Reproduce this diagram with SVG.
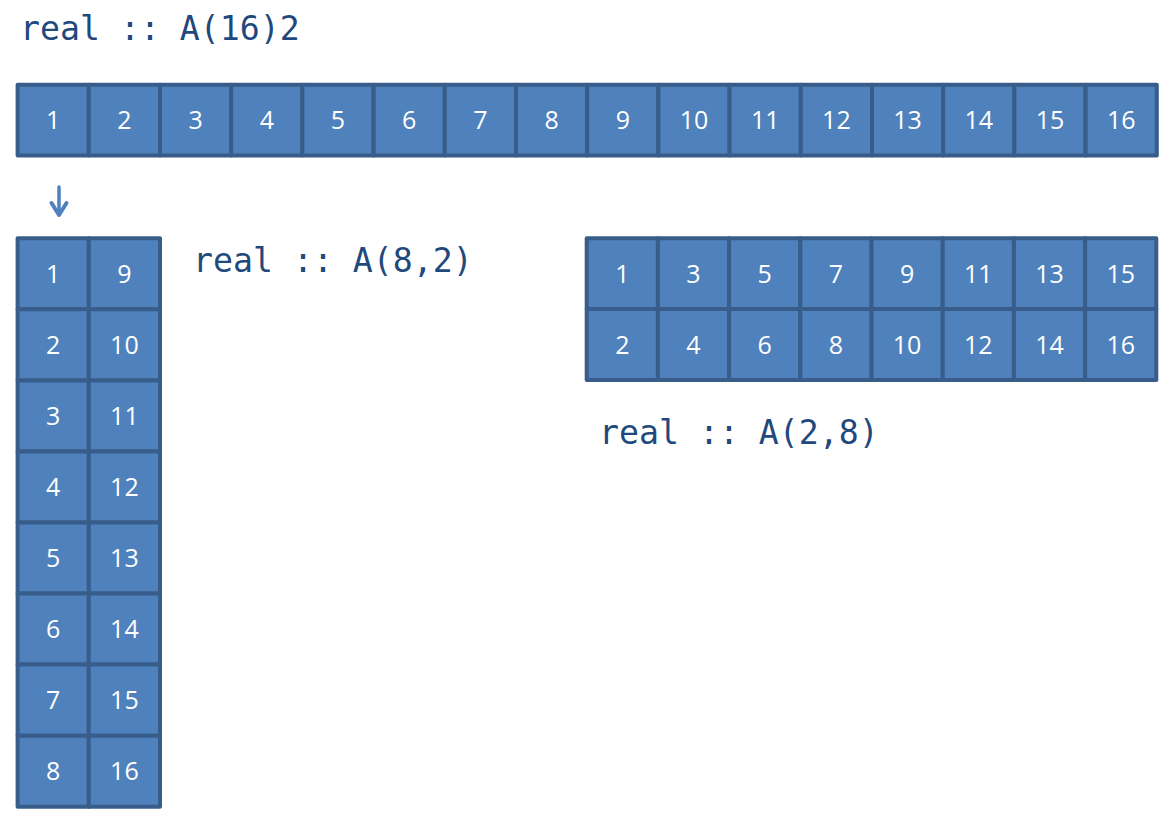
<svg xmlns="http://www.w3.org/2000/svg" width="1173" height="824" viewBox="0 0 1173 824">
<style>
.c{fill:#4f81bd;stroke:#385d8a;stroke-width:4;stroke-linejoin:round}
.n{font-family:"Open Sans","Liberation Sans",sans-serif;font-size:25px;fill:#ffffff;text-anchor:middle}
.lbl{font-family:"DejaVu Sans Mono","Liberation Mono",monospace;font-size:33.2px;fill:#1f497d}
</style>
<rect width="1173" height="824" fill="#ffffff"/>
<g id="label-16-2"><text class="lbl" x="20" y="39.5">real :: A(16)2</text></g>
<g id="label-8-2"><text class="lbl" x="193" y="271.5">real :: A(8,2)</text></g>
<g id="label-2-8"><text class="lbl" x="599" y="443.5">real :: A(2,8)</text></g>
<g id="array-16">
<rect class="c" x="17.6" y="84.8" width="71.2" height="70.8"/><text class="n" x="53.2" y="129">1</text>
<rect class="c" x="88.8" y="84.8" width="71.2" height="70.8"/><text class="n" x="124.4" y="129">2</text>
<rect class="c" x="160" y="84.8" width="71.2" height="70.8"/><text class="n" x="195.6" y="129">3</text>
<rect class="c" x="231.2" y="84.8" width="71.2" height="70.8"/><text class="n" x="266.8" y="129">4</text>
<rect class="c" x="302.4" y="84.8" width="71.2" height="70.8"/><text class="n" x="338" y="129">5</text>
<rect class="c" x="373.6" y="84.8" width="71.2" height="70.8"/><text class="n" x="409.2" y="129">6</text>
<rect class="c" x="444.8" y="84.8" width="71.2" height="70.8"/><text class="n" x="480.4" y="129">7</text>
<rect class="c" x="516" y="84.8" width="71.2" height="70.8"/><text class="n" x="551.6" y="129">8</text>
<rect class="c" x="587.2" y="84.8" width="71.2" height="70.8"/><text class="n" x="622.8" y="129">9</text>
<rect class="c" x="658.4" y="84.8" width="71.2" height="70.8"/><text class="n" x="694" y="129">10</text>
<rect class="c" x="729.6" y="84.8" width="71.2" height="70.8"/><text class="n" x="765.2" y="129">11</text>
<rect class="c" x="800.8" y="84.8" width="71.2" height="70.8"/><text class="n" x="836.4" y="129">12</text>
<rect class="c" x="872" y="84.8" width="71.2" height="70.8"/><text class="n" x="907.6" y="129">13</text>
<rect class="c" x="943.2" y="84.8" width="71.2" height="70.8"/><text class="n" x="978.8" y="129">14</text>
<rect class="c" x="1014.4" y="84.8" width="71.2" height="70.8"/><text class="n" x="1050" y="129">15</text>
<rect class="c" x="1085.6" y="84.8" width="71.2" height="70.8"/><text class="n" x="1121.2" y="129">16</text>
</g>
<g id="connectors">
<line x1="59" y1="187" x2="59" y2="214" stroke="#4f81bd" stroke-width="3.5" stroke-linecap="round"/>
<polyline points="51.5,203 59,215 66.5,203" fill="none" stroke="#4f81bd" stroke-width="4" stroke-linecap="round" stroke-linejoin="round"/>
</g>
<g id="array-8x2">
<rect class="c" x="17.6" y="238.3" width="71.2" height="71.05"/><text class="n" x="53.2" y="282.8">1</text>
<rect class="c" x="88.8" y="238.3" width="71.2" height="71.05"/><text class="n" x="124.4" y="282.8">9</text>
<rect class="c" x="17.6" y="309.35" width="71.2" height="71.05"/><text class="n" x="53.2" y="353.9">2</text>
<rect class="c" x="88.8" y="309.35" width="71.2" height="71.05"/><text class="n" x="124.4" y="353.9">10</text>
<rect class="c" x="17.6" y="380.4" width="71.2" height="71.05"/><text class="n" x="53.2" y="424.9">3</text>
<rect class="c" x="88.8" y="380.4" width="71.2" height="71.05"/><text class="n" x="124.4" y="424.9">11</text>
<rect class="c" x="17.6" y="451.45" width="71.2" height="71.05"/><text class="n" x="53.2" y="496">4</text>
<rect class="c" x="88.8" y="451.45" width="71.2" height="71.05"/><text class="n" x="124.4" y="496">12</text>
<rect class="c" x="17.6" y="522.5" width="71.2" height="71.05"/><text class="n" x="53.2" y="567">5</text>
<rect class="c" x="88.8" y="522.5" width="71.2" height="71.05"/><text class="n" x="124.4" y="567">13</text>
<rect class="c" x="17.6" y="593.55" width="71.2" height="71.05"/><text class="n" x="53.2" y="638.1">6</text>
<rect class="c" x="88.8" y="593.55" width="71.2" height="71.05"/><text class="n" x="124.4" y="638.1">14</text>
<rect class="c" x="17.6" y="664.6" width="71.2" height="71.05"/><text class="n" x="53.2" y="709.1">7</text>
<rect class="c" x="88.8" y="664.6" width="71.2" height="71.05"/><text class="n" x="124.4" y="709.1">15</text>
<rect class="c" x="17.6" y="735.65" width="71.2" height="71.05"/><text class="n" x="53.2" y="780.2">8</text>
<rect class="c" x="88.8" y="735.65" width="71.2" height="71.05"/><text class="n" x="124.4" y="780.2">16</text>
</g>
<g id="array-2x8">
<rect class="c" x="586.7" y="238.3" width="71.2" height="70.8"/><text class="n" x="622.3" y="282.7">1</text>
<rect class="c" x="657.9" y="238.3" width="71.2" height="70.8"/><text class="n" x="693.5" y="282.7">3</text>
<rect class="c" x="729.1" y="238.3" width="71.2" height="70.8"/><text class="n" x="764.7" y="282.7">5</text>
<rect class="c" x="800.3" y="238.3" width="71.2" height="70.8"/><text class="n" x="835.9" y="282.7">7</text>
<rect class="c" x="871.5" y="238.3" width="71.2" height="70.8"/><text class="n" x="907.1" y="282.7">9</text>
<rect class="c" x="942.7" y="238.3" width="71.2" height="70.8"/><text class="n" x="978.3" y="282.7">11</text>
<rect class="c" x="1013.9" y="238.3" width="71.2" height="70.8"/><text class="n" x="1049.5" y="282.7">13</text>
<rect class="c" x="1085.1" y="238.3" width="71.2" height="70.8"/><text class="n" x="1120.7" y="282.7">15</text>
<rect class="c" x="586.7" y="309.1" width="71.2" height="70.8"/><text class="n" x="622.3" y="353.5">2</text>
<rect class="c" x="657.9" y="309.1" width="71.2" height="70.8"/><text class="n" x="693.5" y="353.5">4</text>
<rect class="c" x="729.1" y="309.1" width="71.2" height="70.8"/><text class="n" x="764.7" y="353.5">6</text>
<rect class="c" x="800.3" y="309.1" width="71.2" height="70.8"/><text class="n" x="835.9" y="353.5">8</text>
<rect class="c" x="871.5" y="309.1" width="71.2" height="70.8"/><text class="n" x="907.1" y="353.5">10</text>
<rect class="c" x="942.7" y="309.1" width="71.2" height="70.8"/><text class="n" x="978.3" y="353.5">12</text>
<rect class="c" x="1013.9" y="309.1" width="71.2" height="70.8"/><text class="n" x="1049.5" y="353.5">14</text>
<rect class="c" x="1085.1" y="309.1" width="71.2" height="70.8"/><text class="n" x="1120.7" y="353.5">16</text>
</g>
</svg>
